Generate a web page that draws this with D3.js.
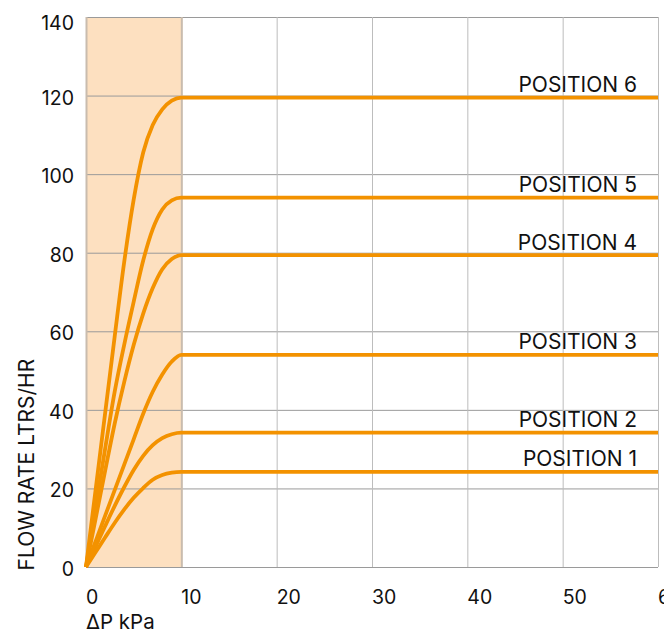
<!DOCTYPE html>
<html>
<head>
<meta charset="utf-8">
<script src="https://cdn.jsdelivr.net/npm/d3@7"></script>
<style>
  html, body { margin: 0; padding: 0; background: #ffffff; }
  svg { display: block; font-family: Inter, "Noto Sans", sans-serif; }
</style>
</head>
<body>
<svg id="chart" width="664" height="634"></svg>
<script>
// ---- data ----
const xTicks = [0, 10, 20, 30, 40, 50, 60];
const yTicks = [0, 20, 40, 60, 80, 100, 120, 140];
const positionLabels = ["POSITION 1", "POSITION 2", "POSITION 3", "POSITION 4", "POSITION 5", "POSITION 6"];
const plateau = [24.2, 34.2, 54.0, 79.4, 94.0, 119.5];
// flow readings at ΔP = 0,1,...,10 kPa, then flat to 60 kPa
const dpSamples = [0, 1, 2, 3, 4, 5, 6, 7, 8, 9, 10, 60];
const pos1 = [0, 3.75, 7.5, 11.2, 14.6, 17.6, 20.1, 22.2, 23.4, 24.0, 24.2, 24.2];
const pos2 = [0, 5.2, 10.4, 15.5, 20.3, 24.7, 28.3, 31.0, 32.8, 33.8, 34.2, 34.2];
const pos3 = [0, 6.5, 13.0, 19.5, 26.0, 32.5, 39.0, 44.6, 49.0, 52.3, 54.0, 54.0];
const pos4 = [0, 12.2, 24.4, 36.4, 47.0, 56.5, 64.5, 71.0, 75.8, 78.4, 79.4, 79.4];
const pos5 = [0, 15.0, 30.0, 44.5, 56.5, 67.5, 78.0, 86.0, 91.0, 93.3, 94.0, 94.0];
const pos6 = [0, 19.5, 39.0, 58.5, 77.5, 93.5, 105.5, 112.5, 116.5, 118.7, 119.5, 119.5];
const series = [pos1, pos2, pos3, pos4, pos5, pos6];
const shadedRange = [0, 10];
const xTitle = "ΔP kPa";
const yTitle = "FLOW RATE LTRS/HR";

// ---- layout ----
(function () {
const svg = d3.select("#chart");
const mLeft = 86, mRight = 658, mTop = 17, mBottom = 567;
const x = d3.scaleLinear().domain([0, 60]).range([mLeft, mRight]);
const y = d3.scaleLinear().domain([0, 140]).range([mBottom, mTop]);
const orange = "#f39200";

// shaded band
svg.append("rect")
  .attr("x", x(shadedRange[0])).attr("y", y(140))
  .attr("width", x(shadedRange[1]) - x(shadedRange[0]))
  .attr("height", y(0) - y(140))
  .attr("fill", "#fde0c0");

// grid
const g = svg.append("g");
g.selectAll(".hg").data(yTicks).join("line")
  .attr("x1", mLeft).attr("x2", mRight)
  .attr("y1", d => y(d) + 0.5).attr("y2", d => y(d) + 0.5)
  .attr("stroke", "#9a9a9a").attr("stroke-width", 1);
g.selectAll(".vg").data(xTicks).join("line")
  .attr("x1", d => x(d) + 0.5).attr("x2", d => x(d) + 0.5)
  .attr("y1", mTop).attr("y2", mBottom)
  .attr("stroke", d => (d <= shadedRange[1]) ? "#c9bcae" : "#bdbdbd")
  .attr("stroke-width", d => (d <= shadedRange[1]) ? 2 : 1);

// curves
const line = d3.line()
  .x((d, i) => x(dpSamples[i]))
  .y(d => y(d))
  .curve(d3.curveMonotoneX);
svg.selectAll(".curve").data(series).join("path")
  .attr("d", line)
  .attr("fill", "none")
  .attr("stroke", orange)
  .attr("stroke-width", 3.8)
  .attr("stroke-linejoin", "round");

// position labels
svg.selectAll(".plab").data(positionLabels).join("text")
  .attr("x", 637)
  .attr("y", (d, i) => y(plateau[i]) - 5.5)
  .attr("text-anchor", "end")
  .attr("font-size", 21)
  .attr("fill", "#111")
  .text(d => d);

// x tick labels
svg.selectAll(".xt").data(xTicks).join("text")
  .attr("x", d => x(d))
  .attr("y", 604)
  .attr("font-size", 19.5)
  .attr("fill", "#111")
  .text(d => d);

// y tick labels
svg.selectAll(".yt").data(yTicks).join("text")
  .attr("x", 74)
  .attr("y", d => Math.max(y(d) + 2, mTop + 6))
  .attr("dy", "0.36em")
  .attr("text-anchor", "end")
  .attr("font-size", 19.5)
  .attr("fill", "#111")
  .text(d => d);

// axis titles
svg.append("text")
  .attr("x", 86).attr("y", 629)
  .attr("font-size", 20.5)
  .attr("fill", "#111")
  .text(xTitle);
svg.append("text")
  .attr("transform", "translate(34,570.5) rotate(-90)")
  .attr("font-size", 21)
  .attr("fill", "#111")
  .text(yTitle);
})();
</script>
</body>
</html>
